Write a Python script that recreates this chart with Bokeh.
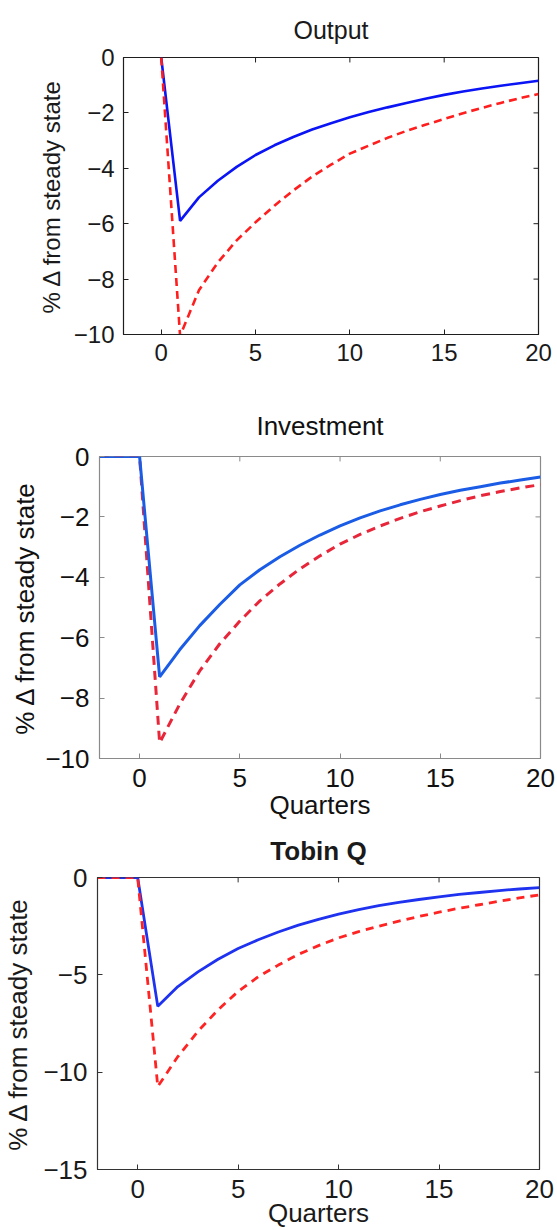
from bokeh.plotting import figure
from bokeh.models import Range1d, FixedTicker
from bokeh.embed import file_html
from bokeh.resources import INLINE

# ---------------- data ----------------
quarters = list(range(-2, 21))
output_quarters = list(range(0, 21))

output_blue = [0, -5.9, -5.05, -4.45, -3.95, -3.52, -3.17, -2.87, -2.6, -2.37, -2.16,
               -1.97, -1.8, -1.64, -1.49, -1.35, -1.23, -1.12, -1.02, -0.93, -0.84]
output_red = [0, -10.05, -8.4, -7.4, -6.6, -5.95, -5.35, -4.8, -4.3, -3.87, -3.47,
              -3.18, -2.9, -2.65, -2.43, -2.22, -2.01, -1.82, -1.64, -1.47, -1.32]

investment_blue = [0, 0, 0, -7.3, -6.4, -5.6, -4.9, -4.25, -3.75, -3.32, -2.94, -2.6, -2.3,
                   -2.03, -1.8, -1.6, -1.42, -1.26, -1.12, -1.0, -0.88, -0.78, -0.68]
investment_red = [0, 0, 0, -9.48, -8.2, -7.1, -6.2, -5.45, -4.78, -4.22, -3.72, -3.29, -2.9,
                  -2.58, -2.3, -2.05, -1.83, -1.64, -1.46, -1.3, -1.16, -1.04, -0.93]

tobin_blue = [0, 0, 0, -6.62, -5.6, -4.85, -4.2, -3.65, -3.2, -2.8, -2.45, -2.15, -1.88,
              -1.65, -1.45, -1.28, -1.13, -0.99, -0.87, -0.77, -0.67, -0.59, -0.52]
tobin_red = [0, 0, 0, -10.74, -9.2, -7.9, -6.8, -5.85, -5.1, -4.5, -3.95, -3.5, -3.1,
             -2.78, -2.5, -2.24, -2.0, -1.78, -1.58, -1.4, -1.22, -1.05, -0.89]

x_ticks = [0, 5, 10, 15, 20]
x_tick_labels = ["0", "5", "10", "15", "20"]
y_ticks_10 = [-10, -8, -6, -4, -2, 0]
y_tick_labels_10 = ["\u221210", "\u22128", "\u22126", "\u22124", "\u22122", "0"]
y_ticks_15 = [-15, -10, -5, 0]
y_tick_labels_15 = ["\u221215", "\u221210", "\u22125", "0"]

titles = ["Output", "Investment", "Tobin Q"]
y_label = "% \u0394 from steady state"
x_label = "Quarters"

FONT = "Liberation Sans"
W = 557
X_RANGE = (-2, 20)
TICK_LEN = 5


def make_panel(title, height, yr, yticks, ylabels, borders, fs, frame_color,
               text_color, title_style, title_fs, title_standoff, tick_standoff,
               label_standoff):
    left, right, top, bottom = borders
    p = figure(width=W, height=height, x_range=Range1d(*X_RANGE), y_range=Range1d(*yr),
               output_backend="svg", toolbar_location=None,
               min_border_left=left, min_border_right=right,
               min_border_top=top, min_border_bottom=bottom)
    p.xgrid.visible = False
    p.ygrid.visible = False
    p.outline_line_color = frame_color
    p.outline_line_width = 1.2
    p.outline_line_alpha = 1
    p.background_fill_color = "white"
    p.border_fill_color = "white"

    p.title.text = title
    p.title.align = "center"
    p.title.text_font = FONT
    p.title.text_font_size = f"{title_fs}px"
    p.title.text_font_style = title_style
    p.title.text_color = text_color
    p.title.standoff = title_standoff

    xax = p.xaxis[0]
    yax = p.yaxis[0]
    for ax, ticks, labels in ((xax, x_ticks, x_tick_labels), (yax, yticks, ylabels)):
        ax.ticker = FixedTicker(ticks=ticks)
        ax.major_label_overrides = {t: l for t, l in zip(ticks, labels)}
        ax.major_label_text_font = FONT
        ax.major_label_text_font_size = f"{fs}px"
        ax.major_label_text_color = text_color
        ax.major_label_standoff = tick_standoff
        ax.major_tick_in = TICK_LEN
        ax.major_tick_out = 0
        ax.major_tick_line_color = frame_color
        ax.minor_tick_line_color = None
        ax.axis_line_color = frame_color
        ax.axis_label_text_font = FONT
        ax.axis_label_text_font_size = f"{fs}px"
        ax.axis_label_text_font_style = "normal"
        ax.axis_label_text_color = text_color

    yax.axis_label = y_label
    yax.axis_label_standoff = label_standoff

    # tick marks on the top and right edges of the box (MATLAB style)
    frame_w = W - left - right
    frame_h = height - top - bottom
    dy = TICK_LEN * (yr[1] - yr[0]) / frame_h
    dx = TICK_LEN * (X_RANGE[1] - X_RANGE[0]) / frame_w
    p.segment(x0=x_ticks, y0=[yr[1]] * len(x_ticks), x1=x_ticks,
              y1=[yr[1] - dy] * len(x_ticks), line_color=frame_color, line_width=1)
    p.segment(x0=[X_RANGE[1]] * len(yticks), y0=yticks, x1=[X_RANGE[1] - dx] * len(yticks),
              y1=yticks, line_color=frame_color, line_width=1)
    return p, xax, yax


# Panel 1 : Output
p1, x1ax, y1ax = make_panel(titles[0], 392, (-10, 0), y_ticks_10, y_tick_labels_10,
                            (123, 19, 56, 58), 24, "#1e1e1e", "#1a1a1a", "normal", 25,
                            27, 9, 6)
p1.line(output_quarters, output_blue, line_color="#0a14f5", line_width=2.6)
p1.line(output_quarters, output_red, line_color="#ff1e1e", line_width=2.6,
        line_dash="8 5")

# Panel 2 : Investment
p2, x2ax, y2ax = make_panel(titles[1], 430, (-10, 0), y_ticks_10, y_tick_labels_10,
                            (99, 17, 64, 61), 26, "#8a8a8a", "#111111", "normal", 26,
                            31, 10, 2)
x2ax.axis_label = x_label
x2ax.axis_label_standoff = 0
p2.line(quarters, investment_red, line_color="#e8263a", line_width=3,
        line_dash="9 6")
p2.line(quarters, investment_blue, line_color="#1a5ce6", line_width=3)

# Panel 3 : Tobin Q
p3, x3ax, y3ax = make_panel(titles[2], 408, (-15, 0), y_ticks_15, y_tick_labels_15,
                            (96, 18, 55, 56), 26, "#333333", "#1a1a1a", "bold", 26,
                            23, 10, 7)
x3ax.axis_label = x_label
x3ax.axis_label_standoff = -3
p3.line(quarters, tobin_blue, line_color="#1e32f0", line_width=2.8)
p3.line(quarters, tobin_red, line_color="#ff2424", line_width=2.8, line_dash="8 6")

open("out.html", "w").write(file_html([p1, p2, p3], INLINE))
